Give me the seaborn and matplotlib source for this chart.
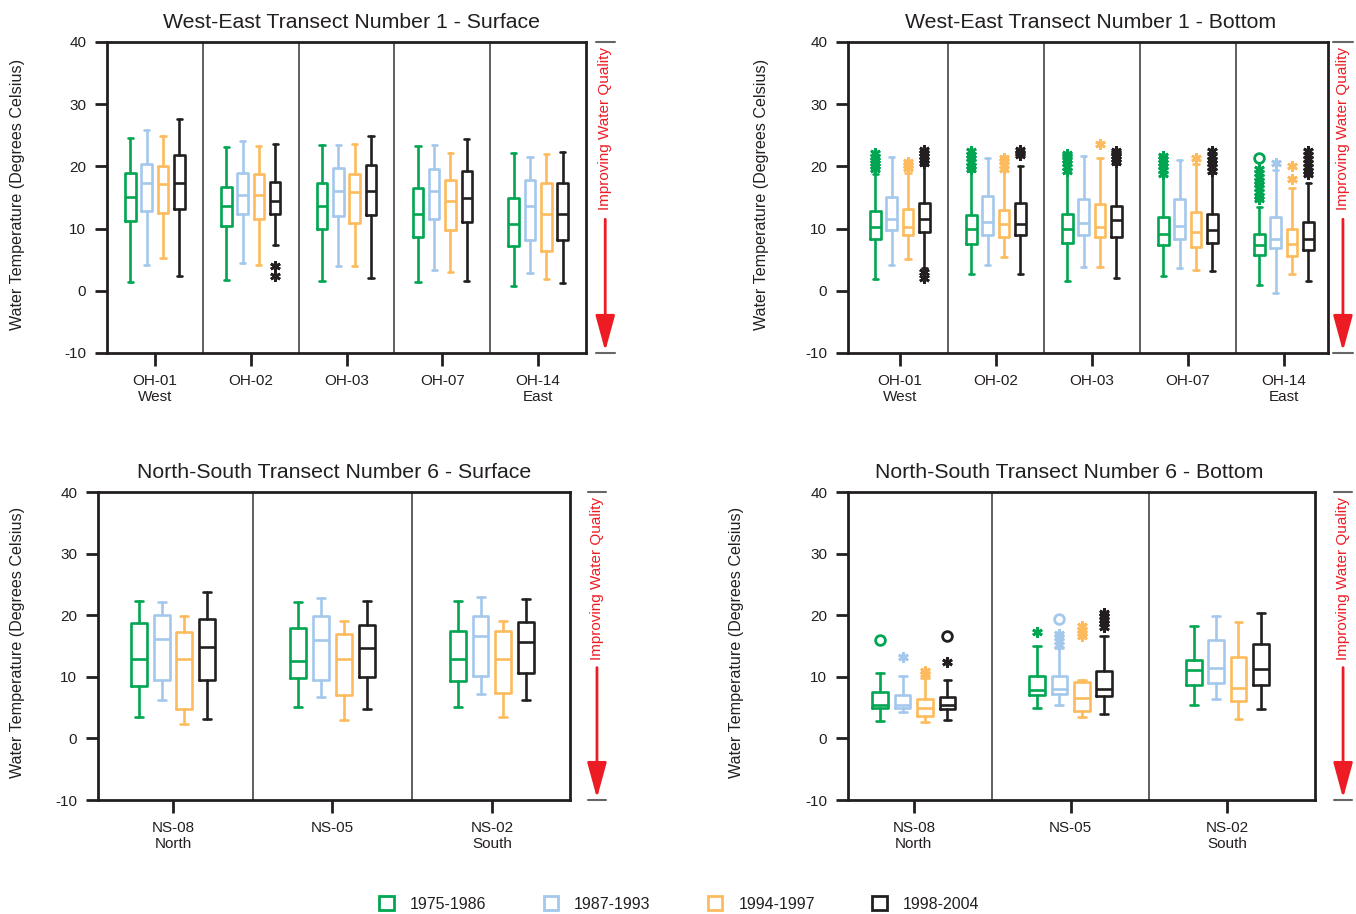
import numpy as np
import matplotlib
matplotlib.use("Agg")
import matplotlib.pyplot as plt
from matplotlib.patches import Patch
import seaborn as sns

# Periods and their colours
periods = ['1975-1986', '1987-1993', '1994-1997', '1998-2004']
colors = ['#00A651', '#A4C8EC', '#FDBB5E', '#231F20']

we_stations = ['OH-01\nWest', 'OH-02', 'OH-03', 'OH-07', 'OH-14\nEast']
ns_stations = ['NS-08\nNorth', 'NS-05', 'NS-02\nSouth']

# box stats per station: (low whisker, Q1, median, Q3, high whisker)
we_surf_p1 = [(1.4, 11.2, 15.1, 18.9, 24.5), (1.7, 10.4, 13.6, 16.7, 23.1), (1.5, 9.9, 13.6, 17.3, 23.4),
              (1.4, 8.7, 12.3, 16.6, 23.3), (0.8, 7.2, 10.7, 14.9, 22.2)]
we_surf_p2 = [(4.1, 12.8, 17.4, 20.4, 25.9), (4.4, 12.3, 15.4, 18.9, 24.0), (4.0, 12.0, 16.1, 19.7, 23.4),
              (3.3, 11.6, 16.1, 19.5, 23.4), (2.9, 8.2, 13.6, 17.8, 21.5)]
we_surf_p3 = [(5.3, 12.5, 17.1, 20.1, 24.9), (4.2, 11.6, 15.4, 18.8, 23.3), (4.0, 10.9, 15.9, 18.8, 23.6),
              (3.0, 9.7, 14.5, 17.8, 22.2), (1.9, 6.4, 12.3, 17.3, 22.0)]
we_surf_p4 = [(2.4, 13.2, 17.3, 21.9, 27.6), (7.3, 12.3, 14.4, 17.5, 23.6), (2.1, 12.2, 16.1, 20.2, 24.9),
              (1.5, 11.1, 14.9, 19.3, 24.4), (1.3, 8.2, 12.3, 17.3, 22.3)]
# outliers: (station, period, value)
we_surf_stars = [(1, 3, 4.0), (1, 3, 2.3)]
we_surf_rings = []

we_bot_p1 = [(1.9, 8.3, 10.2, 12.8, 18.7), (2.7, 7.6, 9.9, 12.2, 19.2), (1.5, 7.7, 9.9, 12.4, 19.2),
             (2.3, 7.3, 9.1, 11.8, 18.6), (0.9, 5.7, 7.4, 9.2, 13.5)]
we_bot_p2 = [(4.2, 9.8, 11.5, 15.1, 21.5), (4.1, 8.9, 11.0, 15.2, 21.4), (3.9, 9.0, 10.9, 14.8, 21.6),
             (3.6, 8.4, 10.4, 14.8, 21.0), (-0.3, 6.8, 8.3, 11.8, 19.4)]
we_bot_p3 = [(5.1, 8.9, 10.2, 13.2, 18.9), (5.5, 8.6, 10.7, 13.0, 19.4), (3.9, 8.6, 10.2, 14.0, 21.4),
             (3.3, 7.1, 9.4, 12.6, 20.4), (2.7, 5.6, 7.5, 10.0, 16.5)]
we_bot_p4 = [(3.7, 9.5, 11.5, 14.1, 20.3), (2.7, 9.0, 10.7, 14.1, 20.1), (2.1, 8.7, 11.3, 13.6, 20.4),
             (3.2, 7.7, 9.8, 12.3, 19.0), (1.6, 6.6, 8.3, 11.1, 17.4)]
we_bot_stars = [
    (0, 0, 19.5), (0, 0, 20.0), (0, 0, 20.5), (0, 0, 21.0), (0, 0, 21.5), (0, 0, 22.1),
    (0, 2, 19.7), (0, 2, 20.2), (0, 2, 20.7),
    (0, 3, 20.6), (0, 3, 21.1), (0, 3, 21.6), (0, 3, 22.1), (0, 3, 22.6), (0, 3, 2.0), (0, 3, 3.0),
    (1, 0, 19.5), (1, 0, 20.1), (1, 0, 20.7), (1, 0, 21.3), (1, 0, 21.9), (1, 0, 22.4),
    (1, 2, 19.6), (1, 2, 20.2), (1, 2, 20.8), (1, 2, 21.4),
    (1, 3, 21.8), (1, 3, 22.2), (1, 3, 22.6),
    (2, 0, 19.3), (2, 0, 19.9), (2, 0, 20.5), (2, 0, 21.1), (2, 0, 21.6), (2, 0, 22.0),
    (2, 2, 23.6),
    (2, 3, 20.7), (2, 3, 21.2), (2, 3, 21.7), (2, 3, 22.1), (2, 3, 22.5),
    (3, 0, 18.8), (3, 0, 19.4), (3, 0, 20.0), (3, 0, 20.6), (3, 0, 21.2), (3, 0, 21.7),
    (3, 2, 21.3),
    (3, 3, 19.3), (3, 3, 19.9), (3, 3, 20.5), (3, 3, 21.1), (3, 3, 21.7), (3, 3, 22.4),
    (4, 0, 14.7), (4, 0, 15.3), (4, 0, 15.9), (4, 0, 16.5), (4, 0, 17.1), (4, 0, 17.7),
    (4, 0, 18.3), (4, 0, 18.9), (4, 0, 19.6),
    (4, 1, 20.5), (4, 2, 20.0), (4, 2, 18.0),
    (4, 3, 18.7), (4, 3, 19.3), (4, 3, 19.9), (4, 3, 20.5), (4, 3, 21.2), (4, 3, 21.8), (4, 3, 22.4),
]
we_bot_rings = [(4, 0, 21.3)]

ns_surf_p1 = [(3.4, 8.5, 12.9, 18.7, 22.3), (5.1, 9.8, 12.6, 17.9, 22.1), (5.1, 9.4, 12.9, 17.5, 22.3)]
ns_surf_p2 = [(6.3, 9.5, 16.1, 20.1, 22.1), (6.8, 9.5, 16.0, 19.8, 22.8), (7.2, 10.2, 16.6, 19.9, 23.0)]
ns_surf_p3 = [(2.3, 4.7, 12.9, 17.3, 19.9), (3.0, 7.0, 12.9, 16.9, 19.0), (3.4, 7.3, 12.9, 17.4, 19.0)]
ns_surf_p4 = [(3.1, 9.5, 14.9, 19.4, 23.8), (4.8, 10.0, 14.6, 18.4, 22.3), (6.2, 10.6, 15.7, 18.9, 22.7)]
ns_surf_stars = []
ns_surf_rings = []

ns_bot_p1 = [(2.9, 4.9, 5.5, 7.5, 10.6), (4.9, 7.0, 7.8, 10.2, 15.0), (5.4, 8.7, 11.1, 12.8, 18.3)]
ns_bot_p2 = [(4.3, 5.0, 5.4, 7.0, 10.1), (5.4, 7.2, 8.0, 10.1, 14.6), (6.4, 9.0, 11.4, 15.9, 19.9)]
ns_bot_p3 = [(2.6, 3.6, 4.9, 6.4, 9.8), (3.4, 4.4, 6.5, 9.2, 9.5), (3.1, 6.0, 8.2, 13.2, 18.9)]
ns_bot_p4 = [(3.0, 4.8, 5.4, 6.8, 9.5), (3.9, 6.9, 8.1, 11.0, 16.7), (4.8, 8.7, 11.2, 15.4, 20.3)]
ns_bot_stars = [
    (0, 1, 13.2), (0, 2, 10.4), (0, 2, 11.0), (0, 3, 12.4),
    (1, 0, 17.2), (1, 1, 15.2), (1, 1, 15.8), (1, 1, 16.4), (1, 1, 17.0),
    (1, 2, 16.6), (1, 2, 17.1), (1, 2, 17.6), (1, 2, 18.2),
    (1, 3, 18.1), (1, 3, 18.7), (1, 3, 19.3), (1, 3, 19.9), (1, 3, 20.4),
]
ns_bot_rings = [(0, 0, 16.0), (0, 3, 16.7), (1, 1, 19.4)]

RED = '#ED1C24'
INK = '#231F20'

sns.set_theme(style="white")
plt.rcParams['font.family'] = ['Liberation Sans', 'DejaVu Sans']
plt.rcParams['axes.unicode_minus'] = False


def draw_panel(ax, title, stations, series, stars, rings, xlim, spread, width,
               title_x, note_x, ylab_x):
    n = len(stations)
    offsets = np.array([-1.5, -0.5, 0.5, 1.5]) * spread
    for k, stats in enumerate(series):
        c = colors[k]
        bstats = [dict(whislo=s[0], q1=s[1], med=s[2], q3=s[3], whishi=s[4], fliers=[]) for s in stats]
        lp = dict(color=c, linewidth=1.9)
        ax.bxp(bstats, positions=np.arange(n) + offsets[k], widths=width, showfliers=False,
               boxprops=lp, whiskerprops=lp, capprops=lp, medianprops=lp, manage_ticks=False)
    for st, p, v in stars:
        ax.plot(st + offsets[p], v, linestyle='none', marker=(6, 2, 0), ms=7.5, mew=2, color=colors[p])
    for st, p, v in rings:
        ax.plot(st + offsets[p], v, linestyle='none', marker='o', ms=7, mew=2,
                mfc='white', mec=colors[p])
    for i in range(n - 1):
        ax.axvline(i + 0.5, color='#444444', lw=1.2)

    ax.set_xlim(*xlim)
    ax.set_ylim(-10, 40)
    ax.set_yticks(range(-10, 41, 10))
    ax.set_xticks(range(n))
    ax.set_xticklabels(stations)
    ax.tick_params(axis='both', direction='out', length=9, width=2, pad=6,
                   labelsize=11, left=True, bottom=True, color=INK, labelcolor=INK)
    for s in ax.spines.values():
        s.set_linewidth(2)
        s.set_color(INK)
    ax.set_title(title, fontsize=15.3, color=INK, x=title_x, pad=10)
    ax.set_ylabel('Water Temperature (Degrees Celsius)', fontsize=11.6, color=INK)
    ax.yaxis.set_label_coords(ylab_x, 0.51)

    # "Improving Water Quality" arrow on the right
    ax.text(note_x, 0.985, 'Improving Water Quality', transform=ax.transAxes, rotation=90,
            color=RED, fontsize=11, ha='center', va='top')
    ax.annotate('', xy=(note_x, 0.006), xytext=(note_x, 0.43), xycoords='axes fraction',
                arrowprops=dict(arrowstyle='-|>,head_length=1.1,head_width=0.3',
                                color=RED, lw=2, mutation_scale=20, shrinkA=0, shrinkB=0))
    for yy in (0, 1):
        ax.plot([note_x - 0.02, note_x + 0.02], [yy, yy], transform=ax.transAxes,
                clip_on=False, color='#666666', lw=1.5)


fig = plt.figure(figsize=(13.56, 9.14), dpi=100)
ax1 = fig.add_axes([0.0789, 0.6138, 0.3533, 0.3403])
ax2 = fig.add_axes([0.6254, 0.6138, 0.3540, 0.3403])
ax3 = fig.add_axes([0.0723, 0.1247, 0.3481, 0.3370])
ax4 = fig.add_axes([0.6254, 0.1247, 0.3444, 0.3370])

draw_panel(ax1, 'West-East Transect Number 1 - Surface', we_stations,
           [we_surf_p1, we_surf_p2, we_surf_p3, we_surf_p4], we_surf_stars, we_surf_rings,
           (-0.5, 4.5), 0.17, 0.11, 0.51, 1.04, -0.171)
draw_panel(ax2, 'West-East Transect Number 1 - Bottom', we_stations,
           [we_bot_p1, we_bot_p2, we_bot_p3, we_bot_p4], we_bot_stars, we_bot_rings,
           (-0.54, 4.46), 0.17, 0.11, 0.506, 1.031, -0.165)
draw_panel(ax3, 'North-South Transect Number 6 - Surface', ns_stations,
           [ns_surf_p1, ns_surf_p2, ns_surf_p3, ns_surf_p4], ns_surf_stars, ns_surf_rings,
           (-0.47, 2.49), 0.143, 0.1, 0.5, 1.057, -0.155)
draw_panel(ax4, 'North-South Transect Number 6 - Bottom', ns_stations,
           [ns_bot_p1, ns_bot_p2, ns_bot_p3, ns_bot_p4], ns_bot_stars, ns_bot_rings,
           (-0.42, 2.56), 0.143, 0.1, 0.474, 1.06, -0.223)

handles = [Patch(facecolor='white', edgecolor=c, linewidth=2) for c in colors]
fig.legend(handles, periods, loc='center', bbox_to_anchor=(0.501, 0.011), ncol=4, frameon=False,
           fontsize=11.5, handlelength=0.9, handleheight=0.9, handletextpad=1.0, columnspacing=3.6,
           labelcolor=INK)

fig.savefig('out.png', dpi=100)
